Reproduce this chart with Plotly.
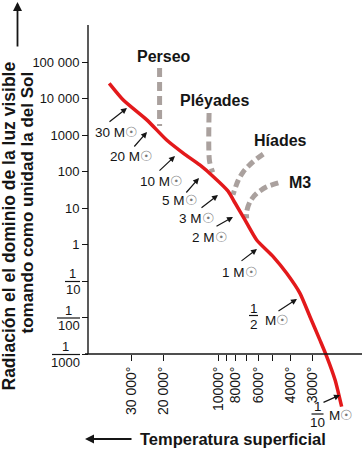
import numpy as np
import plotly.graph_objects as go

# ---------------- data ----------------
# main sequence (temperature K, luminosity in solar units)
ms_temp = [39800, 33300, 24700, 19200, 15500, 12600, 10600, 8800, 8050, 7100,
           6120, 4950, 4180, 3530, 3110, 2740, 2510, 2260, 2080]
ms_lum = [26000, 9100, 2600, 730, 315, 151, 72, 29, 13.7, 4.7,
          1.33, 0.46, 0.163, 0.046, 0.0105, 0.0024, 0.00084, 0.000194, 0.000036]

# cluster turn-off branches
perseo_temp = [21000, 21000]
perseo_lum = [68500, 1770]
pleyades_temp = [11200, 11150, 10700]
pleyades_lum = [4000, 200, 95]
hiades_temp = [5630, 6410, 7250, 7730, 8270]
hiades_lum = [300, 185, 99, 58, 23]
m3_temp = [4650, 5390, 6120, 6660, 6950, 6950]
m3_lum = [49, 38, 25, 15, 7.9, 5.2]

cluster_names = ["Perseo", "Pléyades", "Híades", "M3"]

lum_ticks = [1e5, 1e4, 1e3, 100, 10, 1, 0.1, 0.01, 0.001]
lum_ticktext = ["100 000", "10 000", "1000", "100", "10", "1", "", "", ""]
frac_lum = [0.1, 0.01, 0.001]
frac_den = ["10", "100", "1000"]

temp_ticks = [30000, 20000, 10000, 9000, 8000, 7000, 6000, 5000, 4000, 3000]
temp_ticktext = ["30 000°", "20 000°", "10000°", "", "8000°", "", "6000°", "", "4000°", "3000°"]

mass_labels = ["30", "20", "10", "5", "3", "2", "1"]
frac_mass_den = ["2", "10"]

y_title_1 = "Radiación el el dominio de la luz visible"
y_title_2 = "tomando como unidad la del Sol"
x_title = "Temperatura superficial"

# ---------------- layout helpers ----------------
W, H = 363, 450
PL, PR, PT, PB = 88, 360, 25, 412


def px(x, y):
    return (x - PL) / (PR - PL), (PB - y) / (PB - PT)


def lum_to_py(v):
    # pixel row of a luminosity value with the y range used below
    lo, hi = -4.589, 6.0137
    return PB - (np.log10(v) - lo) / (hi - lo) * (PB - PT)


FONT = "Liberation Sans, Arial, Helvetica, sans-serif"
INK = "#151515"
RED = "#e3191b"
GREY = "#aaa19e"

fig = go.Figure()

for t, l, dash in [(perseo_temp, perseo_lum, "9px,5px"),
                   (pleyades_temp, pleyades_lum, "9px,5px"),
                   (hiades_temp, hiades_lum, "8px,4px"),
                   (m3_temp, m3_lum, "8px,4px")]:
    fig.add_trace(go.Scatter(x=t, y=l, mode="lines",
                             line=dict(color=GREY, width=5, dash=dash, shape="spline", smoothing=0.8),
                             hoverinfo="skip", showlegend=False))

fig.add_trace(go.Scatter(x=ms_temp, y=ms_lum, mode="lines",
                         line=dict(color=RED, width=3.5, shape="spline", smoothing=0.6),
                         hoverinfo="skip", showlegend=False))

annotations = []
shapes = []

# axis lines
x0p, yaxp = px(85, 354)
x1p, _ = px(362, 354)
shapes.append(dict(type="line", xref="paper", yref="paper", x0=x0p, x1=x1p, y0=yaxp, y1=yaxp,
                   line=dict(color=INK, width=1.4)))
shapes.append(dict(type="line", xref="paper", yref="paper", x0=0, x1=0, y0=yaxp, y1=1,
                   line=dict(color=INK, width=1.4)))


def fraction(num, den, cx, bar_y, bar_x0, bar_x1, size, up=8.0, down=7.5):
    xp, _ = px(cx, 0)
    _, yn = px(0, bar_y - up)
    _, yd = px(0, bar_y + down)
    _, yb = px(0, bar_y)
    f = dict(family=FONT, size=size, color=INK)
    annotations.append(dict(xref="paper", yref="paper", x=xp, y=yn, text=num, showarrow=False,
                            xanchor="center", yanchor="middle", font=f))
    annotations.append(dict(xref="paper", yref="paper", x=xp, y=yd, text=den, showarrow=False,
                            xanchor="center", yanchor="middle", font=f))
    xa, _ = px(bar_x0, 0)
    xb, _ = px(bar_x1, 0)
    shapes.append(dict(type="line", xref="paper", yref="paper", x0=xa, x1=xb, y0=yb, y1=yb,
                       line=dict(color=INK, width=1.2)))


# fraction tick labels on the y axis
frac_geom = [(72.5, 65, 80), (68.5, 57, 80), (65.5, 52, 80)]
for v, den, (cx, a, b) in zip(frac_lum, frac_den, frac_geom):
    by = lum_to_py(v) + 0.5
    fraction("1", den, cx, by, a, b, 13)

# axis titles (two separate rotated lines)
for txt, (x, y), fs in [(y_title_1, (8.5, 226), 17.5), (y_title_2, (27, 202.5), 17)]:
    xp, yp = px(x, y)
    annotations.append(dict(xref="paper", yref="paper", x=xp, y=yp, text="<b>" + txt + "</b>",
                            textangle=-90, showarrow=False, xanchor="center", yanchor="middle",
                            font=dict(family=FONT, size=fs, color=INK)))
xp, yp = px(232.5, 439)
annotations.append(dict(xref="paper", yref="paper", x=xp, y=yp, text="<b>" + x_title + "</b>",
                        showarrow=False, xanchor="center", yanchor="middle",
                        font=dict(family=FONT, size=16.5, color=INK)))

# axis arrows
ax_, ay_ = px(17.5, 2)
annotations.append(dict(xref="paper", yref="paper", x=ax_, y=ay_, ax=0, ay=46, text="",
                        showarrow=True, arrowhead=2, arrowsize=1, arrowwidth=1.8, arrowcolor=INK))
ax_, ay_ = px(85, 439)
annotations.append(dict(xref="paper", yref="paper", x=ax_, y=ay_, ax=48, ay=0, text="",
                        showarrow=True, arrowhead=2, arrowsize=1, arrowwidth=1.8, arrowcolor=INK))

# cluster names
name_pos = [(164, 57), (214, 101), (280, 140), (300, 182)]
for name, (x, y) in zip(cluster_names, name_pos):
    xp, yp = px(x, y)
    annotations.append(dict(xref="paper", yref="paper", x=xp, y=yp, text="<b>" + name + "</b>",
                            showarrow=False, xanchor="center", yanchor="middle",
                            font=dict(family=FONT, size=16, color=INK)))

SUN = "<span style='color:#777'>☉</span>"
MFONT = dict(family=FONT, size=13.5, color=INK)


def arrow(tail, tip, width=1.2):
    xp, yp = px(*tip)
    annotations.append(dict(xref="paper", yref="paper", x=xp, y=yp,
                            ax=tail[0] - tip[0], ay=tail[1] - tip[1], text="",
                            showarrow=True, arrowhead=2, arrowsize=1, arrowwidth=width,
                            arrowcolor=INK))


# mass labels (start x, centre y) and arrows (tail -> tip)
mass_pos = [(93, 132), (108, 156), (138, 181), (160, 201), (177, 219), (190, 237), (220, 272)]
mass_arrows = [((108, 123), (127, 108)), ((133, 148), (147, 132)), ((158, 172), (175, 156)),
               ((185, 194), (199, 178)), ((200, 209), (218, 195)), ((215, 227), (233, 217)),
               ((240, 262), (257, 249))]
for lab, (x, y), (tail, tip) in zip(mass_labels, mass_pos, mass_arrows):
    xp, yp = px(x, y)
    annotations.append(dict(xref="paper", yref="paper", x=xp, y=yp, text=lab + " M" + SUN,
                            showarrow=False, xanchor="left", yanchor="middle", font=MFONT))
    arrow(tail, tip)

# fractional masses: 1/2 and 1/10
frac_mass_geom = [((253.5, 315.5, 249, 258), (263, 320), ((277, 312), (297, 299))),
                  ((317.5, 414, 311.5, 323.5), (326.5, 415), ((322, 403), (340, 395)))]
for den, ((cx, by, a, b), (mx, my), (tail, tip)) in zip(frac_mass_den, frac_mass_geom):
    fraction("1", den, cx, by, a, b, 13.5, up=7.5, down=8.5)
    xp, yp = px(mx, my)
    annotations.append(dict(xref="paper", yref="paper", x=xp, y=yp, text="M" + SUN,
                            showarrow=False, xanchor="left", yanchor="middle", font=MFONT))
    arrow(tail, tip)

fig.update_layout(
    width=W, height=H, autosize=False,
    margin=dict(l=PL, r=W - PR, t=PT, b=H - PB, pad=0, autoexpand=False),
    paper_bgcolor="white", plot_bgcolor="white",
    showlegend=False,
    xaxis=dict(type="log", range=[4.717, 3.2168], anchor="free", position=yaxp, automargin=False,
               tickmode="array", tickvals=temp_ticks, ticktext=temp_ticktext, tickangle=-90,
               ticks="outside", ticklen=6, tickwidth=1.3, tickcolor=INK,
               showline=False, showgrid=False, zeroline=False,
               tickfont=dict(family=FONT, size=14, color=INK)),
    yaxis=dict(type="log", range=[-4.589, 6.0137], anchor="free", position=0, automargin=False,
               tickmode="array", tickvals=lum_ticks, ticktext=lum_ticktext,
               ticks="outside", ticklen=6, tickwidth=1.3, tickcolor=INK,
               showline=False, showgrid=False, zeroline=False,
               tickfont=dict(family=FONT, size=13, color=INK)),
    annotations=annotations,
    shapes=shapes,
)

fig.write_html("out.html", config={"displayModeBar": False},
               post_script="document.body.style.margin='0';document.body.style.overflow='hidden';")
